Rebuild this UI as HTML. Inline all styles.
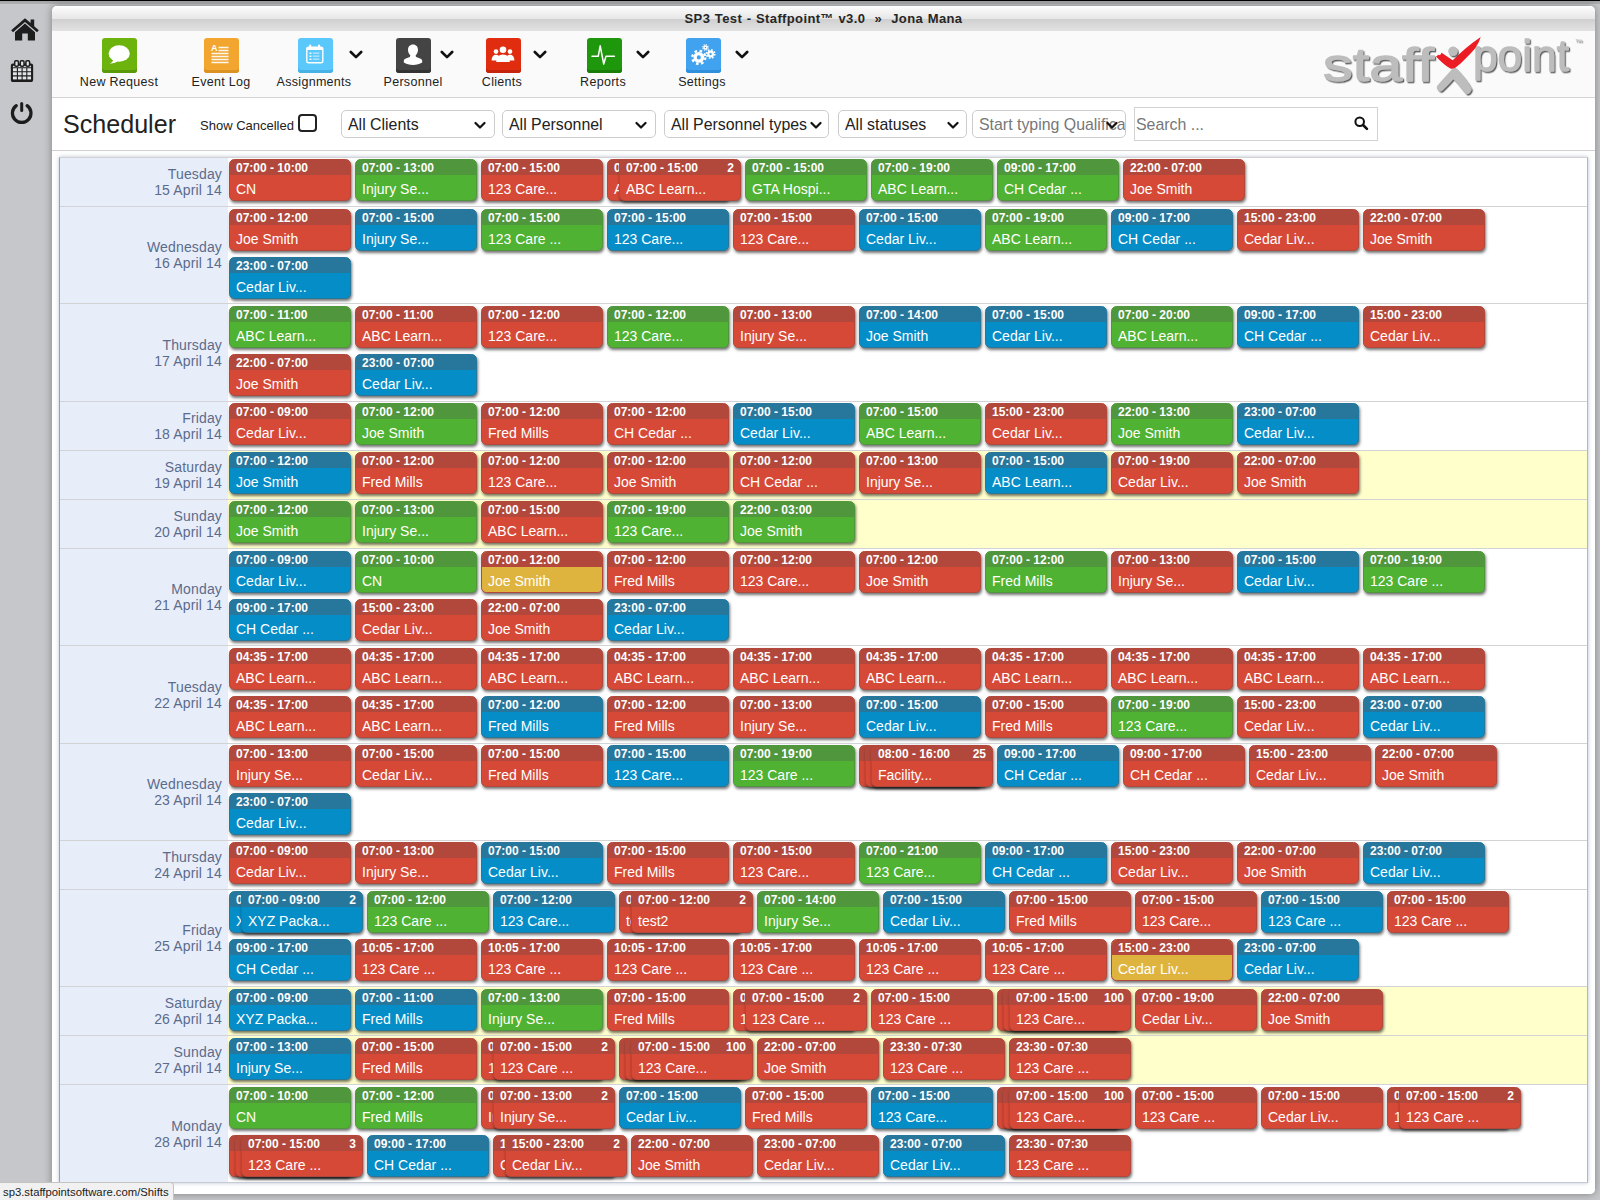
<!DOCTYPE html>
<html lang="en">
<head>
<meta charset="utf-8">
<title>SP3 Test - Staffpoint v3.0</title>
<style>
*{box-sizing:border-box;margin:0;padding:0}
html,body{width:1600px;height:1200px;overflow:hidden}
body{background:#c5c7ca;font-family:"Liberation Sans",Arial,sans-serif;position:relative;color:#222}
.topline{position:absolute;left:0;top:0;width:1600px;height:1px;background:#000}
.topshade{position:absolute;left:0;top:1px;width:1600px;height:3px;background:linear-gradient(#a2a3a5,#b0b1b3)}
.side svg{position:absolute}
.win{position:absolute;left:52px;top:6px;width:1543px;height:1188px;background:#fff;border-radius:5px;box-shadow:0 0 9px rgba(0,0,0,.36);overflow:hidden}
.titlebar{position:absolute;left:0;top:0;width:100%;height:25px;background:linear-gradient(#ffffff 0%,#f5f5f5 18%,#e6e6e6 52%,#d0d0d0 54%,#dbdbdb 80%,#e2e2e2 100%);text-align:center;font-weight:bold;font-size:13px;line-height:25px;color:#262626;letter-spacing:.38px;word-spacing:.6px;white-space:pre}
.toolbar{position:absolute;left:0;top:25px;width:100%;height:67px;background:#fafafa;border-bottom:1px solid #d4d4d4}
.tb{position:absolute;top:7px;width:35px;height:35px;border-radius:3px}
.tb svg{position:absolute;left:-.5px;top:0}
.tl{position:absolute;top:43px;width:120px;text-align:center;font-size:12.5px;line-height:16px;color:#222;letter-spacing:.3px}
.chev{position:absolute;top:19px}
.filter{position:absolute;left:0;top:92px;width:100%;height:53px;background:#fff;border-bottom:1px solid #d0d0d0}
.filter h1{position:absolute;left:11px;top:10px;font-size:25.1px;font-weight:normal;line-height:32px;color:#222}
.filter .sc{position:absolute;left:148px;top:20px;font-size:13px;line-height:16px;color:#222}
.filter .cb{position:absolute;left:246px;top:16px;width:19px;height:18px;border:2px solid #222;border-radius:4px;background:#fff}
.sel{position:absolute;top:12px;height:28px;border:1px solid #ccc;border-radius:5px;background:#fff;font-size:15.9px;line-height:27px;padding-left:6px;color:#222;white-space:nowrap;overflow:hidden}
.sel svg{position:absolute;top:10px}
.search{position:absolute;left:1082px;top:9px;width:244px;height:34px;border:1px solid #d2d2d2;background:#fff;font-size:15.9px;line-height:33px;padding-left:1px;color:#777}
.search svg{position:absolute;left:218px;top:6.500px;transform:scale(.93);transform-origin:0 0}
.content{position:absolute;left:0;top:145px;width:100%;height:1043px;background:#fff}
/* grid is positioned in page coordinates */
.grid{position:absolute;left:0;top:0;width:1600px;height:1200px}
.tablebox{position:absolute;left:59px;top:157px;width:1529px;height:1026px;border:1px solid #a9b7cf;border-top-color:#d6d8dc;border-left-color:#93a2bc;border-bottom-color:#c5cad4;box-shadow:0 0 4px rgba(120,140,170,.5);background:#fff}
.row{position:absolute;left:60px;width:1527px;border-top:1px solid #d3d3d6;background:#fff}
.row.we{background:#ffffcc}
.row .d{position:absolute;left:0;top:0;width:168px;height:100%;background:#e8eef9;display:flex;align-items:center;justify-content:flex-end}
.row .d p{letter-spacing:.15px;font-size:14px;line-height:16px;color:#5b6b8c;text-align:right;padding-right:6px}
.c{position:absolute;width:122px;height:42.400px;border-radius:5.500px;border:1px solid;overflow:hidden;box-shadow:1px 2px 3px rgba(0,0,0,.55);color:#fff}
.c b{display:block;height:15px;font-size:12px;line-height:17px;padding-left:6px;font-weight:bold;white-space:nowrap;position:relative}
.c b i{position:absolute;right:6px;top:0;font-style:normal}
.c span{display:block;height:26px;font-size:14px;line-height:29px;padding-left:6px;white-space:nowrap}
.r{border-color:#b1483b;background:#d64937}.r b{background:#b1483b}
.g{border-color:#50963c;background:#50b232}.g b{background:#50963c}
.b{border-color:#27769c;background:#058dc7}.b b{background:#27769c}
.y{border-color:#b1483b;background:#dfb43e}.y b{background:#b1483b}
.status{position:absolute;left:0;top:1182px;width:174px;height:18px;background:#f1f1f1;border-top:1px solid #c4c4c4;border-right:1px solid #c4c4c4;border-top-right-radius:4px;font-size:11.3px;line-height:18px;padding-left:3px;color:#1a1a1a;white-space:nowrap}
</style>
</head>
<body>
<div class="topshade"></div>
<div class="topline"></div>

<div class="side">
<!-- home -->
<svg style="left:10px;top:16px" width="30" height="26" viewBox="0 0 30 26"><path d="M15 2.2 L1.2 14.2 L3 16.2 L15 5.9 L27 16.2 L28.8 14.2 L24.2 10.2 V3.6 H20.6 V7.1 Z" fill="#1d1d1d"/><path d="M15 7.6 L5 16.2 V24.6 H12.2 V17.6 H17.8 V24.6 H25 V16.2 Z" fill="#1d1d1d"/></svg>
<!-- calendar -->
<svg style="left:10px;top:59px" width="25" height="25" viewBox="0 0 25 25"><rect x="1.900" y="5.600" width="20.200" height="16.400" rx="1" fill="#e3e4e6" stroke="#1d1d1d" stroke-width="2.100"/><path d="M1.900 8.700H22.100M1.900 12.800H22.100M1.900 16.900H22.100M7.400 8.700V22M12.100 8.700V22M16.800 8.700V22" stroke="#1d1d1d" stroke-width="1.100" fill="none"/><path d="M1.900 21.600H22.100" stroke="#1d1d1d" stroke-width="2.400"/><rect x="4.700" y="1.700" width="3.700" height="5.600" rx="1.200" fill="#e3e4e6" stroke="#1d1d1d" stroke-width="1.500"/><rect x="10.300" y="1.700" width="3.700" height="5.600" rx="1.200" fill="#e3e4e6" stroke="#1d1d1d" stroke-width="1.500"/><rect x="15.900" y="1.700" width="3.700" height="5.600" rx="1.200" fill="#e3e4e6" stroke="#1d1d1d" stroke-width="1.500"/></svg>
<!-- power -->
<svg style="left:9px;top:100px" width="26" height="26" viewBox="0 0 26 26"><path d="M7.300 5.600 A9.300 9.300 0 1 0 18.100 5.600" fill="none" stroke="#1d1d1d" stroke-width="3.200" stroke-linecap="round"/><path d="M12.700 3.400V10.400" stroke="#1d1d1d" stroke-width="3" stroke-linecap="round"/></svg>
</div>

<div class="win">
  <div class="titlebar">SP3 Test - Staffpoint™ v3.0  »  Jona Mana</div>

  <div class="toolbar">
    <div class="tb" style="left:49.5px;background:#6cb30d;box-shadow:inset 0 -3px 0 #5a990a">
      <svg width="36" height="35" viewBox="0 0 36 35"><ellipse cx="18.2" cy="15.5" rx="10.6" ry="8.2" fill="#fff"/><path d="M12.5 20.5 Q12 24.5 8.6 25.6 Q14.5 25.8 17.6 22.6 Z" fill="#fff"/></svg>
    </div>
    <div class="tl" style="left:7px">New Request</div>

    <div class="tb" style="left:151.5px;background:#f2a630;box-shadow:inset 0 -3px 0 #dc9222">
      <svg width="36" height="35" viewBox="0 0 36 35"><path d="M15.500 9.500H25.500M15.500 12.500H25.500M8.500 15.500H25.500M8.500 18.500H25.500M8.500 21.500H25.500M8.500 24.500H25.500" stroke="#fff" stroke-width="1.300" opacity=".92"/><text x="8" y="13.200" font-family="Liberation Sans,Arial,sans-serif" font-size="9" font-weight="bold" fill="#fff">A</text></svg>
    </div>
    <div class="tl" style="left:109px">Event Log</div>

    <div class="tb" style="left:245.5px;background:#5ac8fa;box-shadow:inset 0 -3px 0 #46b2e6">
      <svg width="36" height="35" viewBox="0 0 36 35"><rect x="9.800" y="9.200" width="16" height="15.600" rx="1.800" fill="none" stroke="#fff" stroke-width="1.400"/><rect x="9.800" y="9.200" width="16" height="2.800" fill="#fff"/><rect x="12.2" y="6.6" width="2" height="4.2" rx="1" fill="#fff"/><rect x="21" y="6.6" width="2" height="4.2" rx="1" fill="#fff"/><path d="M12.600 15.200h1.800M12.600 18.200h1.800M12.600 21.200h1.800" stroke="#fff" stroke-width="1.500"/><path d="M15.800 15.200h6.600M15.800 18.200h6.600M15.800 21.200h6.600" stroke="#fff" stroke-width="1.200" opacity=".6"/></svg>
    </div>
    <div class="tl" style="left:202px">Assignments</div>
    <svg class="chev" style="left:297px" width="14" height="10" viewBox="0 0 14 10"><path d="M1.8 2 L7 7.2 L12.2 2" fill="none" stroke="#111" stroke-width="2.6" stroke-linecap="round" stroke-linejoin="round"/></svg>

    <div class="tb" style="left:343.5px;background:#444;box-shadow:inset 0 -3px 0 #333">
      <svg width="36" height="35" viewBox="0 0 36 35"><path d="M18 6.4c3.2 0 5 2.4 5 5.4 0 2.400-1 4.400-2.300 5.500 0 .8.200 1.600 1.200 2 2.800 1.200 5.300 1.700 5.300 3.500v1.800c-2.400 1.700-5.600 2.400-9.200 2.400s-6.800-.7-9.200-2.400v-1.800c0-1.800 2.500-2.300 5.300-3.500 1-.4 1.200-1.200 1.200-2-1.300-1.100-2.300-3.100-2.300-5.500 0-3 1.800-5.400 5-5.400z" fill="#fff"/></svg>
    </div>
    <div class="tl" style="left:301px">Personnel</div>
    <svg class="chev" style="left:388px" width="14" height="10" viewBox="0 0 14 10"><path d="M1.800 2 L7 7.200 L12.200 2" fill="none" stroke="#111" stroke-width="2.600" stroke-linecap="round" stroke-linejoin="round"/></svg>

    <div class="tb" style="left:433.5px;background:#e12d0f;box-shadow:inset 0 -3px 0 #c4250b">
      <svg width="36" height="35" viewBox="0 0 36 35"><g fill="#fff"><circle cx="11" cy="13.6" r="2.3"/><path d="M6.600 22.400c0-3.600 1.800-5.600 4.400-5.600 1.200 0 2.200.4 3 1.200-1.200 1.200-1.800 2.800-1.800 4.400z"/><circle cx="25" cy="13.600" r="2.300"/><path d="M29.400 22.400c0-3.600-1.800-5.600-4.400-5.600-1.200 0-2.200.4-3 1.200 1.200 1.200 1.800 2.800 1.800 4.400z"/><circle cx="18" cy="11.800" r="3.300"/><path d="M11.200 24c0-4.800 2.600-7.600 6.800-7.600s6.800 2.800 6.800 7.600z"/></g></svg>
    </div>
    <div class="tl" style="left:390px">Clients</div>
    <svg class="chev" style="left:481px" width="14" height="10" viewBox="0 0 14 10"><path d="M1.800 2 L7 7.200 L12.200 2" fill="none" stroke="#111" stroke-width="2.600" stroke-linecap="round" stroke-linejoin="round"/></svg>

    <div class="tb" style="left:534.5px;background:#1f970d;box-shadow:inset 0 -3px 0 #187d09">
      <svg width="36" height="35" viewBox="0 0 36 35"><path d="M6 18.300H12.200L14.200 7.800L17.700 26L20 18.300H28.400" fill="none" stroke="#fff" stroke-width="1.500" stroke-linejoin="round" stroke-linecap="round"/></svg>
    </div>
    <div class="tl" style="left:491px">Reports</div>
    <svg class="chev" style="left:584px" width="14" height="10" viewBox="0 0 14 10"><path d="M1.800 2 L7 7.200 L12.200 2" fill="none" stroke="#111" stroke-width="2.600" stroke-linecap="round" stroke-linejoin="round"/></svg>

    <div class="tb" style="left:633.5px;background:#41a3f0;box-shadow:inset 0 -3px 0 #2f8fdc">
      <svg width="36" height="35" viewBox="0 0 36 35"><g fill="none" stroke="#fff"><circle cx="13.800" cy="19.400" r="3.700" stroke-width="3.300"/><circle cx="13.800" cy="19.400" r="6.500" stroke-width="2.400" stroke-dasharray="2.550 2.555"/><circle cx="25.600" cy="16" r="2.300" stroke-width="2.200"/><circle cx="25.600" cy="16" r="4.100" stroke-width="1.700" stroke-dasharray="1.600 1.620"/><circle cx="20.400" cy="9.400" r="1.500" stroke-width="1.500"/><circle cx="20.400" cy="9.400" r="2.700" stroke-width="1.300" stroke-dasharray="1.050 1.070"/></g></svg>
    </div>
    <div class="tl" style="left:590px">Settings</div>
    <svg class="chev" style="left:683px" width="14" height="10" viewBox="0 0 14 10"><path d="M1.800 2 L7 7.200 L12.200 2" fill="none" stroke="#111" stroke-width="2.600" stroke-linecap="round" stroke-linejoin="round"/></svg>

    <!-- logo -->
    <svg style="position:absolute;left:1266px;top:4px" width="274" height="62" viewBox="0 0 274 62">
      <defs><filter id="ls" x="-5%" y="-10%" width="110%" height="130%"><feDropShadow dx="1.2" dy="1.4" stdDeviation=".7" flood-color="#444" flood-opacity=".85"/></filter></defs>
      <g filter="url(#ls)" fill="#bdbdbd" stroke="#bdbdbd" stroke-width="1.3" stroke-linejoin="round" font-family="Liberation Sans,Arial,sans-serif">
        <text x="5" y="45.6" font-size="46" textLength="111" lengthAdjust="spacingAndGlyphs">staff</text>
        <text x="155" y="35.5" font-size="45" textLength="96" lengthAdjust="spacingAndGlyphs">point</text>
        <text x="257" y="9" font-size="7" stroke="none">™</text>
        <path d="M135.500 33.500 C130 40 124 46 119.500 51.500 C118.500 53.500 121.500 56.500 123.600 55.500 C127.500 52 131.500 47.500 135.500 43.400 C140 48 144.500 54 148.500 58.500 C150.500 59.500 153.500 55.500 153 53.500 C149 46 143 39 137.500 33.500 Z"/>
      </g>
      <path d="M118 21.500 L120.500 19.800 L122 20.300 L123.600 17.800 L134.700 25.300 C143 17 152 9 162.700 2 C161.500 6 159.500 10 156.800 13.700 C151 20.500 144.500 27 138 32.300 C136 33.800 134 33.900 132.300 33.500 C127 30.500 122 26 118 21.500 Z" fill="#ec1c24"/>
      <g filter="url(#ls)"><circle cx="135" cy="16.3" r="4.8" fill="#bdbdbd"/></g>
    </svg>
  </div>

  <div class="filter">
    <h1>Scheduler</h1>
    <div class="sc">Show Cancelled</div>
    <div class="cb"></div>
    <div class="sel" style="left:289px;width:153.5px">All Clients<svg style="left:132px" width="12" height="9" viewBox="0 0 12 9"><path d="M1.500 2 L6 6.500 L10.500 2" fill="none" stroke="#111" stroke-width="2.200" stroke-linecap="round" stroke-linejoin="round"/></svg></div>
    <div class="sel" style="left:450px;width:153.5px">All Personnel<svg style="left:132px" width="12" height="9" viewBox="0 0 12 9"><path d="M1.500 2 L6 6.500 L10.500 2" fill="none" stroke="#111" stroke-width="2.200" stroke-linecap="round" stroke-linejoin="round"/></svg></div>
    <div class="sel" style="left:612px;width:165px">All Personnel types<svg style="left:145px" width="12" height="9" viewBox="0 0 12 9"><path d="M1.500 2 L6 6.500 L10.500 2" fill="none" stroke="#111" stroke-width="2.200" stroke-linecap="round" stroke-linejoin="round"/></svg></div>
    <div class="sel" style="left:786px;width:128.700px">All statuses<svg style="left:108px" width="12" height="9" viewBox="0 0 12 9"><path d="M1.500 2 L6 6.500 L10.500 2" fill="none" stroke="#111" stroke-width="2.200" stroke-linecap="round" stroke-linejoin="round"/></svg></div>
    <div class="sel" style="left:920px;width:154px;color:#777">Start typing Qualifica<svg style="left:133px" width="12" height="9" viewBox="0 0 12 9"><path d="M1.500 2 L6 6.500 L10.500 2" fill="none" stroke="#111" stroke-width="2.200" stroke-linecap="round" stroke-linejoin="round"/></svg></div>
    <div class="search">Search ...<svg width="18" height="18" viewBox="0 0 18 18"><circle cx="7.200" cy="7.200" r="4.600" fill="none" stroke="#111" stroke-width="2.200"/><path d="M10.800 10.800 L15 15" stroke="#111" stroke-width="2.800" stroke-linecap="round"/></svg></div>
  </div>
  <div class="content"></div>
</div>

<div class="grid">
<div class="tablebox"></div>
<div class="row" style="top:157px;height:49px"><div class="d"><p>Tuesday<br>15 April 14</p></div></div>
<div class="c r" style="left:229px;top:159px"><b>07:00 - 10:00</b><span>CN</span></div>
<div class="c g" style="left:355px;top:159px"><b>07:00 - 13:00</b><span>Injury Se...</span></div>
<div class="c r" style="left:481px;top:159px"><b>07:00 - 15:00</b><span>123 Care...</span></div>
<div class="c r" style="left:607px;top:159px"><b>07:00 - 15:00</b><span>ABC Learn...</span></div>
<div class="c r" style="left:619px;top:159px"><b>07:00 - 15:00<i>2</i></b><span>ABC Learn...</span></div>
<div class="c g" style="left:745px;top:159px"><b>07:00 - 15:00</b><span>GTA Hospi...</span></div>
<div class="c g" style="left:871px;top:159px"><b>07:00 - 19:00</b><span>ABC Learn...</span></div>
<div class="c g" style="left:997px;top:159px"><b>09:00 - 17:00</b><span>CH Cedar ...</span></div>
<div class="c r" style="left:1123px;top:159px"><b>22:00 - 07:00</b><span>Joe Smith</span></div>
<div class="row" style="top:206px;height:97px"><div class="d"><p>Wednesday<br>16 April 14</p></div></div>
<div class="c r" style="left:229px;top:209px"><b>07:00 - 12:00</b><span>Joe Smith</span></div>
<div class="c b" style="left:355px;top:209px"><b>07:00 - 15:00</b><span>Injury Se...</span></div>
<div class="c g" style="left:481px;top:209px"><b>07:00 - 15:00</b><span>123 Care ...</span></div>
<div class="c b" style="left:607px;top:209px"><b>07:00 - 15:00</b><span>123 Care...</span></div>
<div class="c r" style="left:733px;top:209px"><b>07:00 - 15:00</b><span>123 Care...</span></div>
<div class="c b" style="left:859px;top:209px"><b>07:00 - 15:00</b><span>Cedar Liv...</span></div>
<div class="c g" style="left:985px;top:209px"><b>07:00 - 19:00</b><span>ABC Learn...</span></div>
<div class="c b" style="left:1111px;top:209px"><b>09:00 - 17:00</b><span>CH Cedar ...</span></div>
<div class="c r" style="left:1237px;top:209px"><b>15:00 - 23:00</b><span>Cedar Liv...</span></div>
<div class="c r" style="left:1363px;top:209px"><b>22:00 - 07:00</b><span>Joe Smith</span></div>
<div class="c b" style="left:229px;top:257px"><b>23:00 - 07:00</b><span>Cedar Liv...</span></div>
<div class="row" style="top:303px;height:98px"><div class="d"><p>Thursday<br>17 April 14</p></div></div>
<div class="c g" style="left:229px;top:306px"><b>07:00 - 11:00</b><span>ABC Learn...</span></div>
<div class="c r" style="left:355px;top:306px"><b>07:00 - 11:00</b><span>ABC Learn...</span></div>
<div class="c r" style="left:481px;top:306px"><b>07:00 - 12:00</b><span>123 Care...</span></div>
<div class="c g" style="left:607px;top:306px"><b>07:00 - 12:00</b><span>123 Care...</span></div>
<div class="c r" style="left:733px;top:306px"><b>07:00 - 13:00</b><span>Injury Se...</span></div>
<div class="c b" style="left:859px;top:306px"><b>07:00 - 14:00</b><span>Joe Smith</span></div>
<div class="c b" style="left:985px;top:306px"><b>07:00 - 15:00</b><span>Cedar Liv...</span></div>
<div class="c g" style="left:1111px;top:306px"><b>07:00 - 20:00</b><span>ABC Learn...</span></div>
<div class="c b" style="left:1237px;top:306px"><b>09:00 - 17:00</b><span>CH Cedar ...</span></div>
<div class="c r" style="left:1363px;top:306px"><b>15:00 - 23:00</b><span>Cedar Liv...</span></div>
<div class="c r" style="left:229px;top:354px"><b>22:00 - 07:00</b><span>Joe Smith</span></div>
<div class="c b" style="left:355px;top:354px"><b>23:00 - 07:00</b><span>Cedar Liv...</span></div>
<div class="row" style="top:401px;height:49px"><div class="d"><p>Friday<br>18 April 14</p></div></div>
<div class="c r" style="left:229px;top:403px"><b>07:00 - 09:00</b><span>Cedar Liv...</span></div>
<div class="c g" style="left:355px;top:403px"><b>07:00 - 12:00</b><span>Joe Smith</span></div>
<div class="c r" style="left:481px;top:403px"><b>07:00 - 12:00</b><span>Fred Mills</span></div>
<div class="c r" style="left:607px;top:403px"><b>07:00 - 12:00</b><span>CH Cedar ...</span></div>
<div class="c b" style="left:733px;top:403px"><b>07:00 - 15:00</b><span>Cedar Liv...</span></div>
<div class="c g" style="left:859px;top:403px"><b>07:00 - 15:00</b><span>ABC Learn...</span></div>
<div class="c r" style="left:985px;top:403px"><b>15:00 - 23:00</b><span>Cedar Liv...</span></div>
<div class="c g" style="left:1111px;top:403px"><b>22:00 - 13:00</b><span>Joe Smith</span></div>
<div class="c b" style="left:1237px;top:403px"><b>23:00 - 07:00</b><span>Cedar Liv...</span></div>
<div class="row we" style="top:450px;height:49px"><div class="d"><p>Saturday<br>19 April 14</p></div></div>
<div class="c b" style="left:229px;top:452px"><b>07:00 - 12:00</b><span>Joe Smith</span></div>
<div class="c r" style="left:355px;top:452px"><b>07:00 - 12:00</b><span>Fred Mills</span></div>
<div class="c r" style="left:481px;top:452px"><b>07:00 - 12:00</b><span>123 Care...</span></div>
<div class="c r" style="left:607px;top:452px"><b>07:00 - 12:00</b><span>Joe Smith</span></div>
<div class="c r" style="left:733px;top:452px"><b>07:00 - 12:00</b><span>CH Cedar ...</span></div>
<div class="c r" style="left:859px;top:452px"><b>07:00 - 13:00</b><span>Injury Se...</span></div>
<div class="c b" style="left:985px;top:452px"><b>07:00 - 15:00</b><span>ABC Learn...</span></div>
<div class="c r" style="left:1111px;top:452px"><b>07:00 - 19:00</b><span>Cedar Liv...</span></div>
<div class="c r" style="left:1237px;top:452px"><b>22:00 - 07:00</b><span>Joe Smith</span></div>
<div class="row we" style="top:499px;height:49px"><div class="d"><p>Sunday<br>20 April 14</p></div></div>
<div class="c g" style="left:229px;top:501px"><b>07:00 - 12:00</b><span>Joe Smith</span></div>
<div class="c g" style="left:355px;top:501px"><b>07:00 - 13:00</b><span>Injury Se...</span></div>
<div class="c r" style="left:481px;top:501px"><b>07:00 - 15:00</b><span>ABC Learn...</span></div>
<div class="c g" style="left:607px;top:501px"><b>07:00 - 19:00</b><span>123 Care...</span></div>
<div class="c g" style="left:733px;top:501px"><b>22:00 - 03:00</b><span>Joe Smith</span></div>
<div class="row" style="top:548px;height:97px"><div class="d"><p>Monday<br>21 April 14</p></div></div>
<div class="c b" style="left:229px;top:551px"><b>07:00 - 09:00</b><span>Cedar Liv...</span></div>
<div class="c g" style="left:355px;top:551px"><b>07:00 - 10:00</b><span>CN</span></div>
<div class="c y" style="left:481px;top:551px"><b>07:00 - 12:00</b><span>Joe Smith</span></div>
<div class="c r" style="left:607px;top:551px"><b>07:00 - 12:00</b><span>Fred Mills</span></div>
<div class="c r" style="left:733px;top:551px"><b>07:00 - 12:00</b><span>123 Care...</span></div>
<div class="c r" style="left:859px;top:551px"><b>07:00 - 12:00</b><span>Joe Smith</span></div>
<div class="c g" style="left:985px;top:551px"><b>07:00 - 12:00</b><span>Fred Mills</span></div>
<div class="c r" style="left:1111px;top:551px"><b>07:00 - 13:00</b><span>Injury Se...</span></div>
<div class="c b" style="left:1237px;top:551px"><b>07:00 - 15:00</b><span>Cedar Liv...</span></div>
<div class="c g" style="left:1363px;top:551px"><b>07:00 - 19:00</b><span>123 Care ...</span></div>
<div class="c b" style="left:229px;top:599px"><b>09:00 - 17:00</b><span>CH Cedar ...</span></div>
<div class="c r" style="left:355px;top:599px"><b>15:00 - 23:00</b><span>Cedar Liv...</span></div>
<div class="c r" style="left:481px;top:599px"><b>22:00 - 07:00</b><span>Joe Smith</span></div>
<div class="c b" style="left:607px;top:599px"><b>23:00 - 07:00</b><span>Cedar Liv...</span></div>
<div class="row" style="top:645px;height:98px"><div class="d"><p>Tuesday<br>22 April 14</p></div></div>
<div class="c r" style="left:229px;top:648px"><b>04:35 - 17:00</b><span>ABC Learn...</span></div>
<div class="c r" style="left:355px;top:648px"><b>04:35 - 17:00</b><span>ABC Learn...</span></div>
<div class="c r" style="left:481px;top:648px"><b>04:35 - 17:00</b><span>ABC Learn...</span></div>
<div class="c r" style="left:607px;top:648px"><b>04:35 - 17:00</b><span>ABC Learn...</span></div>
<div class="c r" style="left:733px;top:648px"><b>04:35 - 17:00</b><span>ABC Learn...</span></div>
<div class="c r" style="left:859px;top:648px"><b>04:35 - 17:00</b><span>ABC Learn...</span></div>
<div class="c r" style="left:985px;top:648px"><b>04:35 - 17:00</b><span>ABC Learn...</span></div>
<div class="c r" style="left:1111px;top:648px"><b>04:35 - 17:00</b><span>ABC Learn...</span></div>
<div class="c r" style="left:1237px;top:648px"><b>04:35 - 17:00</b><span>ABC Learn...</span></div>
<div class="c r" style="left:1363px;top:648px"><b>04:35 - 17:00</b><span>ABC Learn...</span></div>
<div class="c r" style="left:229px;top:696px"><b>04:35 - 17:00</b><span>ABC Learn...</span></div>
<div class="c r" style="left:355px;top:696px"><b>04:35 - 17:00</b><span>ABC Learn...</span></div>
<div class="c b" style="left:481px;top:696px"><b>07:00 - 12:00</b><span>Fred Mills</span></div>
<div class="c r" style="left:607px;top:696px"><b>07:00 - 12:00</b><span>Fred Mills</span></div>
<div class="c r" style="left:733px;top:696px"><b>07:00 - 13:00</b><span>Injury Se...</span></div>
<div class="c b" style="left:859px;top:696px"><b>07:00 - 15:00</b><span>Cedar Liv...</span></div>
<div class="c r" style="left:985px;top:696px"><b>07:00 - 15:00</b><span>Fred Mills</span></div>
<div class="c g" style="left:1111px;top:696px"><b>07:00 - 19:00</b><span>123 Care...</span></div>
<div class="c r" style="left:1237px;top:696px"><b>15:00 - 23:00</b><span>Cedar Liv...</span></div>
<div class="c b" style="left:1363px;top:696px"><b>23:00 - 07:00</b><span>Cedar Liv...</span></div>
<div class="row" style="top:743px;height:97px"><div class="d"><p>Wednesday<br>23 April 14</p></div></div>
<div class="c r" style="left:229px;top:745px"><b>07:00 - 13:00</b><span>Injury Se...</span></div>
<div class="c r" style="left:355px;top:745px"><b>07:00 - 15:00</b><span>Cedar Liv...</span></div>
<div class="c r" style="left:481px;top:745px"><b>07:00 - 15:00</b><span>Fred Mills</span></div>
<div class="c b" style="left:607px;top:745px"><b>07:00 - 15:00</b><span>123 Care...</span></div>
<div class="c g" style="left:733px;top:745px"><b>07:00 - 19:00</b><span>123 Care ...</span></div>
<div class="c r" style="left:859px;top:745px"><b>08:00 - 16:00</b><span>Facility...</span></div>
<div class="c r" style="left:865px;top:745px"><b>08:00 - 16:00</b><span>Facility...</span></div>
<div class="c r" style="left:871px;top:745px"><b>08:00 - 16:00<i>25</i></b><span>Facility...</span></div>
<div class="c b" style="left:997px;top:745px"><b>09:00 - 17:00</b><span>CH Cedar ...</span></div>
<div class="c r" style="left:1123px;top:745px"><b>09:00 - 17:00</b><span>CH Cedar ...</span></div>
<div class="c r" style="left:1249px;top:745px"><b>15:00 - 23:00</b><span>Cedar Liv...</span></div>
<div class="c r" style="left:1375px;top:745px"><b>22:00 - 07:00</b><span>Joe Smith</span></div>
<div class="c b" style="left:229px;top:793px"><b>23:00 - 07:00</b><span>Cedar Liv...</span></div>
<div class="row" style="top:840px;height:49px"><div class="d"><p>Thursday<br>24 April 14</p></div></div>
<div class="c r" style="left:229px;top:842px"><b>07:00 - 09:00</b><span>Cedar Liv...</span></div>
<div class="c r" style="left:355px;top:842px"><b>07:00 - 13:00</b><span>Injury Se...</span></div>
<div class="c b" style="left:481px;top:842px"><b>07:00 - 15:00</b><span>Cedar Liv...</span></div>
<div class="c r" style="left:607px;top:842px"><b>07:00 - 15:00</b><span>Fred Mills</span></div>
<div class="c r" style="left:733px;top:842px"><b>07:00 - 15:00</b><span>123 Care...</span></div>
<div class="c g" style="left:859px;top:842px"><b>07:00 - 21:00</b><span>123 Care...</span></div>
<div class="c b" style="left:985px;top:842px"><b>09:00 - 17:00</b><span>CH Cedar ...</span></div>
<div class="c r" style="left:1111px;top:842px"><b>15:00 - 23:00</b><span>Cedar Liv...</span></div>
<div class="c r" style="left:1237px;top:842px"><b>22:00 - 07:00</b><span>Joe Smith</span></div>
<div class="c b" style="left:1363px;top:842px"><b>23:00 - 07:00</b><span>Cedar Liv...</span></div>
<div class="row" style="top:889px;height:97px"><div class="d"><p>Friday<br>25 April 14</p></div></div>
<div class="c b" style="left:229px;top:891px"><b>07:00 - 09:00</b><span>XYZ Packa...</span></div>
<div class="c b" style="left:241px;top:891px"><b>07:00 - 09:00<i>2</i></b><span>XYZ Packa...</span></div>
<div class="c g" style="left:367px;top:891px"><b>07:00 - 12:00</b><span>123 Care ...</span></div>
<div class="c b" style="left:493px;top:891px"><b>07:00 - 12:00</b><span>123 Care...</span></div>
<div class="c r" style="left:619px;top:891px"><b>07:00 - 12:00</b><span>test2</span></div>
<div class="c r" style="left:631px;top:891px"><b>07:00 - 12:00<i>2</i></b><span>test2</span></div>
<div class="c g" style="left:757px;top:891px"><b>07:00 - 14:00</b><span>Injury Se...</span></div>
<div class="c b" style="left:883px;top:891px"><b>07:00 - 15:00</b><span>Cedar Liv...</span></div>
<div class="c r" style="left:1009px;top:891px"><b>07:00 - 15:00</b><span>Fred Mills</span></div>
<div class="c r" style="left:1135px;top:891px"><b>07:00 - 15:00</b><span>123 Care...</span></div>
<div class="c b" style="left:1261px;top:891px"><b>07:00 - 15:00</b><span>123 Care ...</span></div>
<div class="c r" style="left:1387px;top:891px"><b>07:00 - 15:00</b><span>123 Care ...</span></div>
<div class="c b" style="left:229px;top:939px"><b>09:00 - 17:00</b><span>CH Cedar ...</span></div>
<div class="c r" style="left:355px;top:939px"><b>10:05 - 17:00</b><span>123 Care ...</span></div>
<div class="c r" style="left:481px;top:939px"><b>10:05 - 17:00</b><span>123 Care ...</span></div>
<div class="c r" style="left:607px;top:939px"><b>10:05 - 17:00</b><span>123 Care ...</span></div>
<div class="c r" style="left:733px;top:939px"><b>10:05 - 17:00</b><span>123 Care ...</span></div>
<div class="c r" style="left:859px;top:939px"><b>10:05 - 17:00</b><span>123 Care ...</span></div>
<div class="c r" style="left:985px;top:939px"><b>10:05 - 17:00</b><span>123 Care ...</span></div>
<div class="c y" style="left:1111px;top:939px"><b>15:00 - 23:00</b><span>Cedar Liv...</span></div>
<div class="c b" style="left:1237px;top:939px"><b>23:00 - 07:00</b><span>Cedar Liv...</span></div>
<div class="row we" style="top:986px;height:49px"><div class="d"><p>Saturday<br>26 April 14</p></div></div>
<div class="c b" style="left:229px;top:989px"><b>07:00 - 09:00</b><span>XYZ Packa...</span></div>
<div class="c b" style="left:355px;top:989px"><b>07:00 - 11:00</b><span>Fred Mills</span></div>
<div class="c g" style="left:481px;top:989px"><b>07:00 - 13:00</b><span>Injury Se...</span></div>
<div class="c r" style="left:607px;top:989px"><b>07:00 - 15:00</b><span>Fred Mills</span></div>
<div class="c r" style="left:733px;top:989px"><b>07:00 - 15:00</b><span>123 Care ...</span></div>
<div class="c r" style="left:745px;top:989px"><b>07:00 - 15:00<i>2</i></b><span>123 Care ...</span></div>
<div class="c r" style="left:871px;top:989px"><b>07:00 - 15:00</b><span>123 Care ...</span></div>
<div class="c r" style="left:997px;top:989px"><b>07:00 - 15:00</b><span>123 Care...</span></div>
<div class="c r" style="left:1003px;top:989px"><b>07:00 - 15:00</b><span>123 Care...</span></div>
<div class="c r" style="left:1009px;top:989px"><b>07:00 - 15:00<i>100</i></b><span>123 Care...</span></div>
<div class="c r" style="left:1135px;top:989px"><b>07:00 - 19:00</b><span>Cedar Liv...</span></div>
<div class="c r" style="left:1261px;top:989px"><b>22:00 - 07:00</b><span>Joe Smith</span></div>
<div class="row we" style="top:1035px;height:49px"><div class="d"><p>Sunday<br>27 April 14</p></div></div>
<div class="c b" style="left:229px;top:1038px"><b>07:00 - 13:00</b><span>Injury Se...</span></div>
<div class="c r" style="left:355px;top:1038px"><b>07:00 - 15:00</b><span>Fred Mills</span></div>
<div class="c r" style="left:481px;top:1038px"><b>07:00 - 15:00</b><span>123 Care ...</span></div>
<div class="c r" style="left:493px;top:1038px"><b>07:00 - 15:00<i>2</i></b><span>123 Care ...</span></div>
<div class="c r" style="left:619px;top:1038px"><b>07:00 - 15:00</b><span>123 Care...</span></div>
<div class="c r" style="left:625px;top:1038px"><b>07:00 - 15:00</b><span>123 Care...</span></div>
<div class="c r" style="left:631px;top:1038px"><b>07:00 - 15:00<i>100</i></b><span>123 Care...</span></div>
<div class="c r" style="left:757px;top:1038px"><b>22:00 - 07:00</b><span>Joe Smith</span></div>
<div class="c r" style="left:883px;top:1038px"><b>23:30 - 07:30</b><span>123 Care ...</span></div>
<div class="c r" style="left:1009px;top:1038px"><b>23:30 - 07:30</b><span>123 Care ...</span></div>
<div class="row" style="top:1084px;height:98px"><div class="d"><p>Monday<br>28 April 14</p></div></div>
<div class="c g" style="left:229px;top:1087px"><b>07:00 - 10:00</b><span>CN</span></div>
<div class="c g" style="left:355px;top:1087px"><b>07:00 - 12:00</b><span>Fred Mills</span></div>
<div class="c r" style="left:481px;top:1087px"><b>07:00 - 13:00</b><span>Injury Se...</span></div>
<div class="c r" style="left:493px;top:1087px"><b>07:00 - 13:00<i>2</i></b><span>Injury Se...</span></div>
<div class="c b" style="left:619px;top:1087px"><b>07:00 - 15:00</b><span>Cedar Liv...</span></div>
<div class="c r" style="left:745px;top:1087px"><b>07:00 - 15:00</b><span>Fred Mills</span></div>
<div class="c b" style="left:871px;top:1087px"><b>07:00 - 15:00</b><span>123 Care...</span></div>
<div class="c r" style="left:997px;top:1087px"><b>07:00 - 15:00</b><span>123 Care...</span></div>
<div class="c r" style="left:1003px;top:1087px"><b>07:00 - 15:00</b><span>123 Care...</span></div>
<div class="c r" style="left:1009px;top:1087px"><b>07:00 - 15:00<i>100</i></b><span>123 Care...</span></div>
<div class="c r" style="left:1135px;top:1087px"><b>07:00 - 15:00</b><span>123 Care ...</span></div>
<div class="c r" style="left:1261px;top:1087px"><b>07:00 - 15:00</b><span>Cedar Liv...</span></div>
<div class="c r" style="left:1387px;top:1087px"><b>07:00 - 15:00</b><span>123 Care ...</span></div>
<div class="c r" style="left:1399px;top:1087px"><b>07:00 - 15:00<i>2</i></b><span>123 Care ...</span></div>
<div class="c r" style="left:229px;top:1135px"><b>07:00 - 15:00</b><span>123 Care ...</span></div>
<div class="c r" style="left:235px;top:1135px"><b>07:00 - 15:00</b><span>123 Care ...</span></div>
<div class="c r" style="left:241px;top:1135px"><b>07:00 - 15:00<i>3</i></b><span>123 Care ...</span></div>
<div class="c b" style="left:367px;top:1135px"><b>09:00 - 17:00</b><span>CH Cedar ...</span></div>
<div class="c r" style="left:493px;top:1135px"><b>15:00 - 23:00</b><span>Cedar Liv...</span></div>
<div class="c r" style="left:505px;top:1135px"><b>15:00 - 23:00<i>2</i></b><span>Cedar Liv...</span></div>
<div class="c r" style="left:631px;top:1135px"><b>22:00 - 07:00</b><span>Joe Smith</span></div>
<div class="c r" style="left:757px;top:1135px"><b>23:00 - 07:00</b><span>Cedar Liv...</span></div>
<div class="c b" style="left:883px;top:1135px"><b>23:00 - 07:00</b><span>Cedar Liv...</span></div>
<div class="c r" style="left:1009px;top:1135px"><b>23:30 - 07:30</b><span>123 Care ...</span></div>
</div>

<div class="status">sp3.staffpointsoftware.com/Shifts</div>
</body>
</html>
